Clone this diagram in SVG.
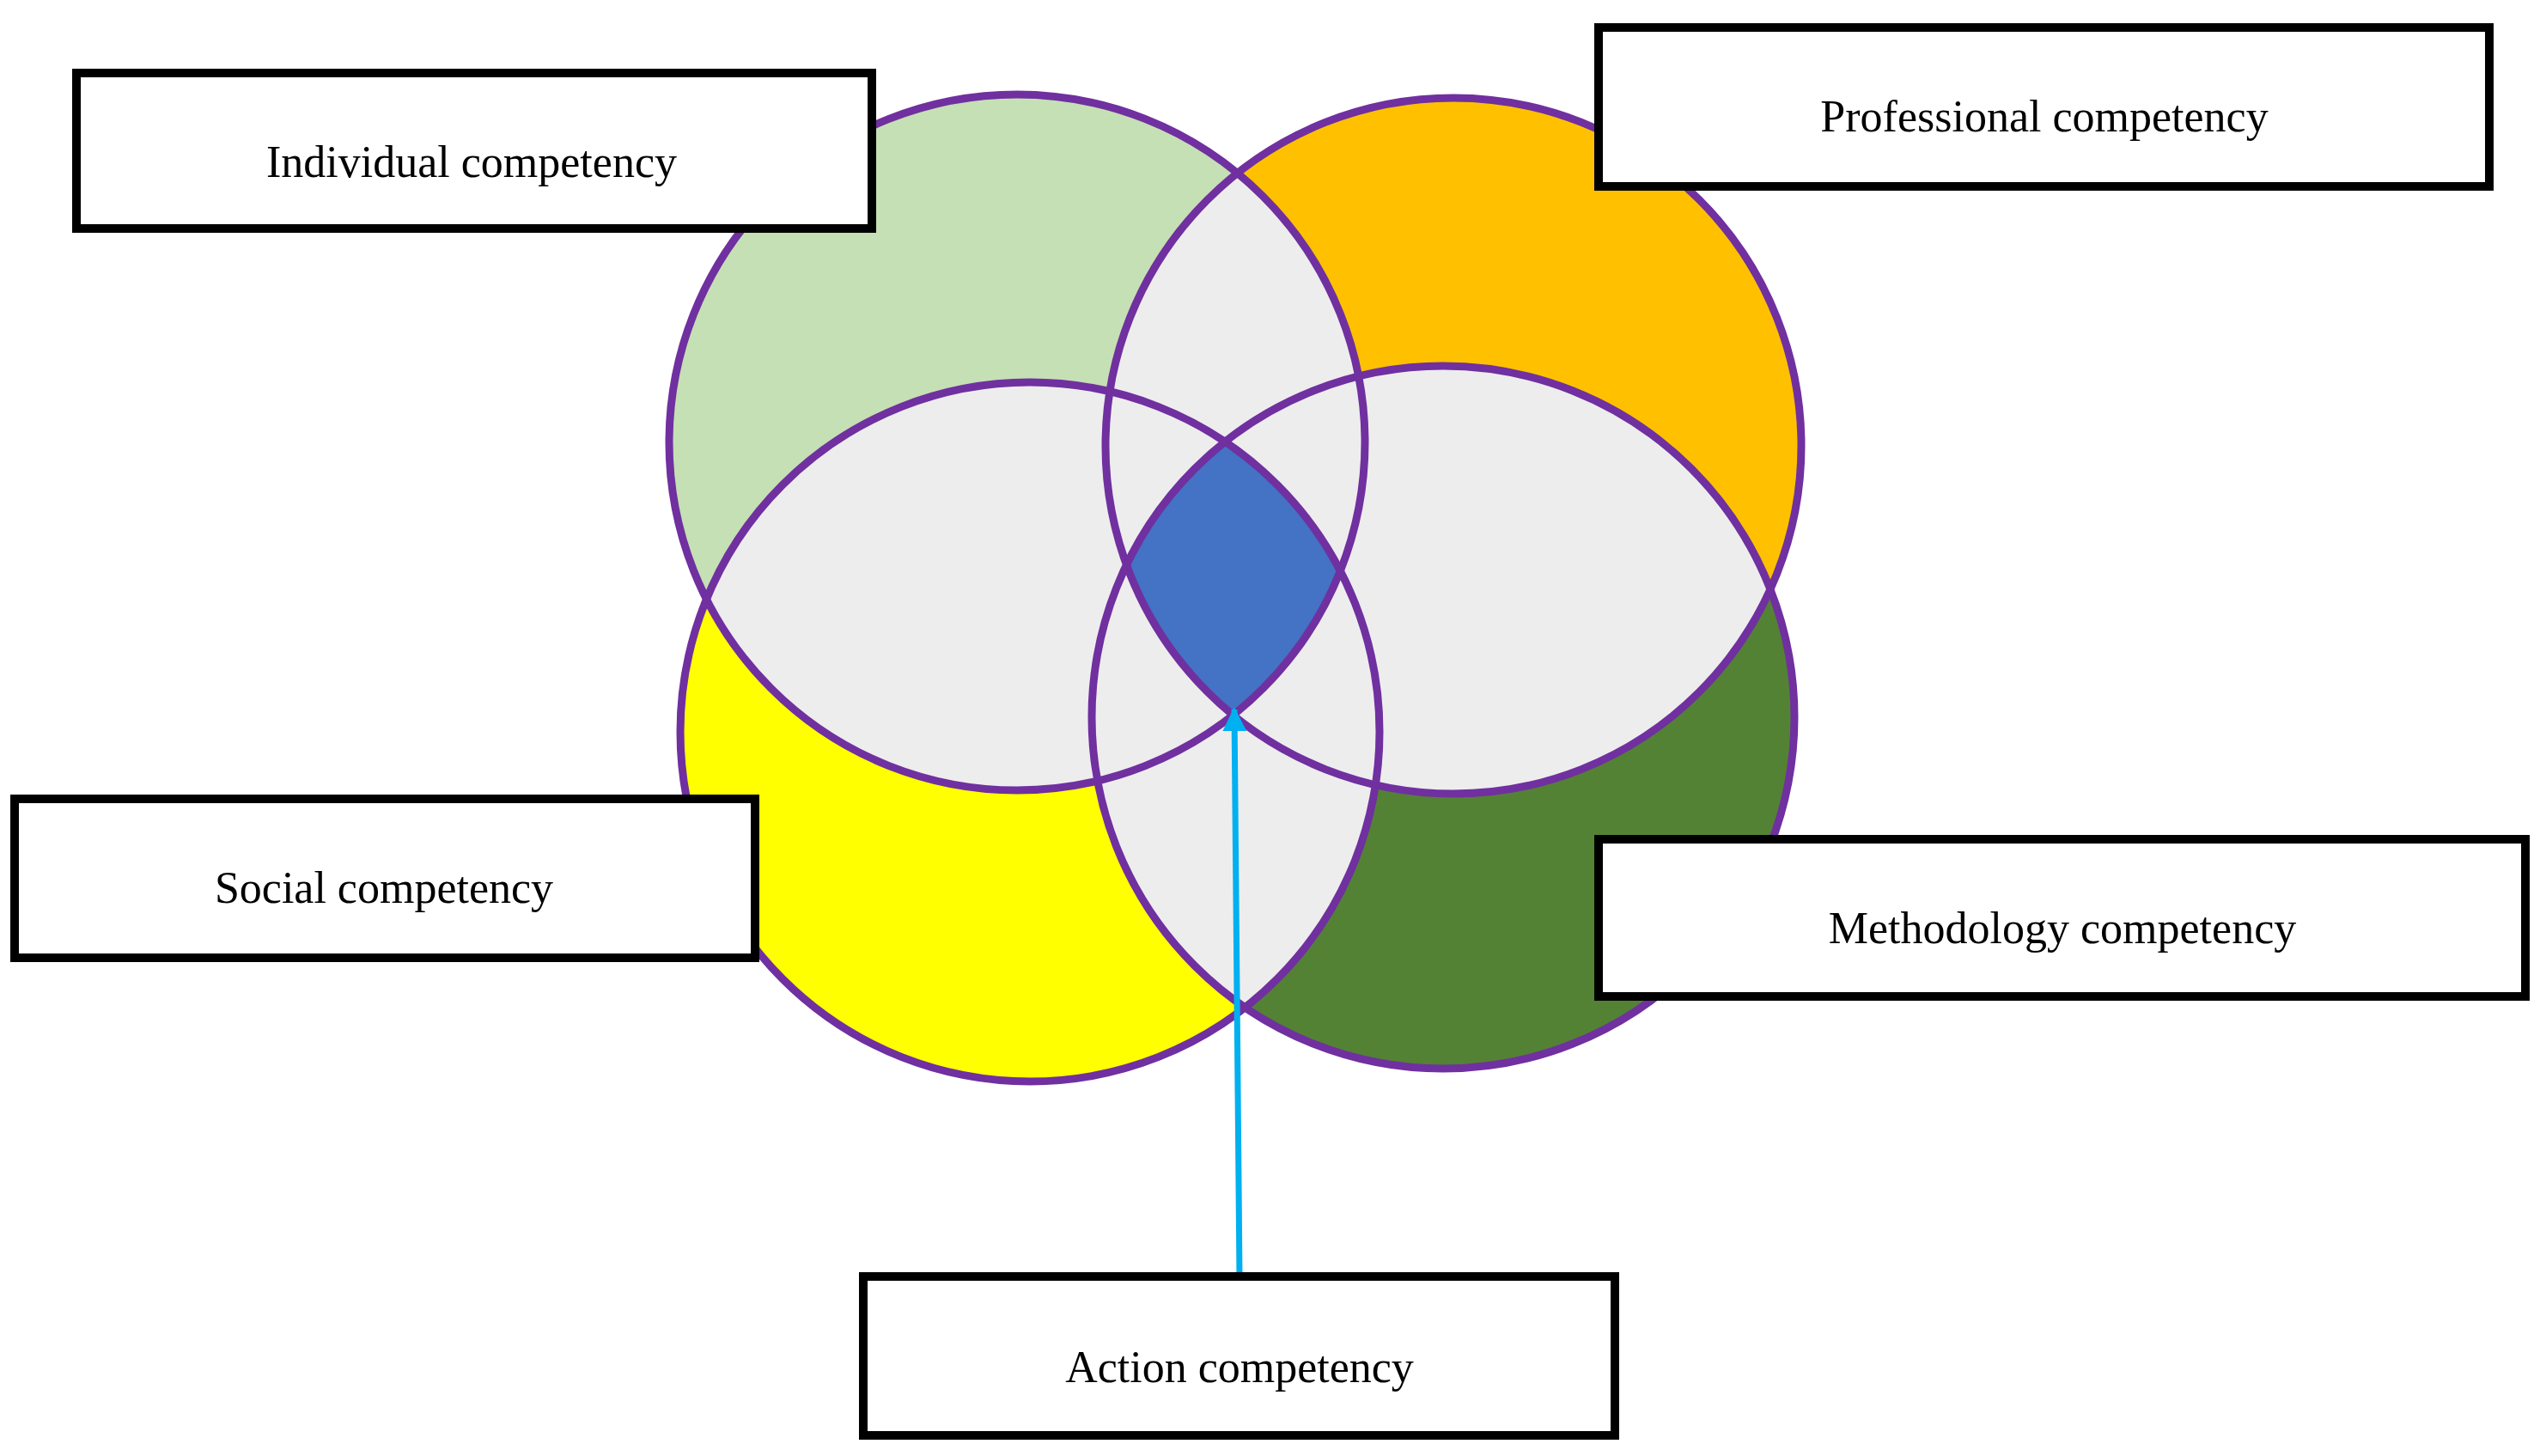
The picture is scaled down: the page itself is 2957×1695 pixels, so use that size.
<svg xmlns="http://www.w3.org/2000/svg" width="2957" height="1695" viewBox="0 0 2957 1695">
<style>
.ol{fill:none;stroke:#7030A0;stroke-width:9}
.box{fill:#fff;stroke:#000;stroke-width:10}
.t{font-family:"Liberation Serif",serif;font-size:52px;fill:#000;text-anchor:middle;dominant-baseline:middle}
.g{fill:#EDEDED}
</style>
<defs>
<clipPath id="cG"><circle cx="1184" cy="515" r="405"/></clipPath>
<clipPath id="cO"><circle cx="1692" cy="519" r="405"/></clipPath>
<clipPath id="cY"><circle cx="1199" cy="852" r="407"/></clipPath>
<clipPath id="cD"><circle cx="1680" cy="835" r="409"/></clipPath>
<marker id="ah" viewBox="0 0 10 10" refX="9" refY="5" markerWidth="4" markerHeight="4" orient="auto"><path d="M0,0L10,5L0,10z" fill="#00B0F0"/></marker>
</defs>
<rect width="2957" height="1695" fill="#fff"/>
<g id="venn">
<circle cx="1184" cy="515" r="405" fill="#C5E0B4"/>
<circle cx="1692" cy="519" r="405" fill="#FFC000"/>
<circle cx="1199" cy="852" r="407" fill="#FFFF00"/>
<circle cx="1680" cy="835" r="409" fill="#548235"/>
<g clip-path="url(#cG)"><circle class="g" cx="1692" cy="519" r="405"/><circle class="g" cx="1199" cy="852" r="407"/><circle class="g" cx="1680" cy="835" r="409"/></g>
<g clip-path="url(#cO)"><circle class="g" cx="1199" cy="852" r="407"/><circle class="g" cx="1680" cy="835" r="409"/></g>
<g clip-path="url(#cY)"><circle class="g" cx="1680" cy="835" r="409"/></g>
<g clip-path="url(#cG)"><g clip-path="url(#cO)"><g clip-path="url(#cY)"><circle cx="1680" cy="835" r="409" fill="#4472C4"/></g></g></g>
<circle class="ol" cx="1184" cy="515" r="405"/>
<circle class="ol" cx="1692" cy="519" r="405"/>
<circle class="ol" cx="1199" cy="852" r="407"/>
<circle class="ol" cx="1680" cy="835" r="409"/>
</g>
<g id="connectors">
<line x1="1443" y1="1486" x2="1437" y2="826" stroke="#00B0F0" stroke-width="7" marker-end="url(#ah)"/>
</g>
<g id="individual"><rect class="box" x="89" y="85" width="926" height="181"/><text class="t" x="549" y="194">Individual competency</text></g>
<g id="professional"><rect class="box" x="1861" y="32" width="1037" height="185"/><text class="t" x="2380" y="141">Professional competency</text></g>
<g id="social"><rect class="box" x="17" y="930" width="862" height="185"/><text class="t" x="447" y="1039">Social competency</text></g>
<g id="methodology"><rect class="box" x="1861" y="977" width="1079" height="183"/><text class="t" x="2401" y="1086">Methodology competency</text></g>
<g id="action"><rect class="box" x="1005" y="1486" width="875" height="185"/><text class="t" x="1443" y="1597">Action competency</text></g>
</svg>
